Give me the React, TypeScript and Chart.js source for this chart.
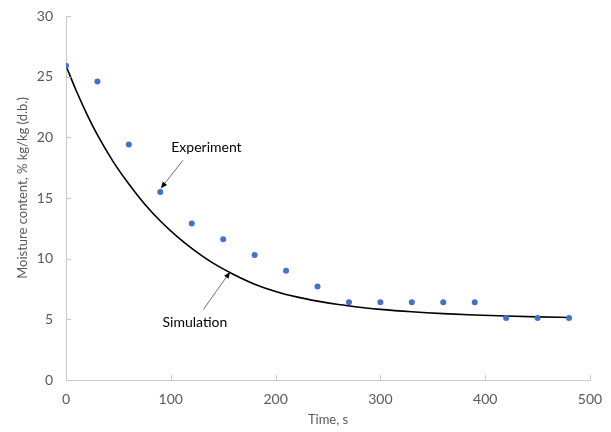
import React, { useEffect, useRef } from "react";
import { Chart, registerables } from "chart.js";

Chart.register(...registerables);

const expTime = [0, 30, 60, 90, 120, 150, 180, 210, 240, 270, 300, 330, 360, 390, 420, 450, 480];
const expMoisture = [25.9, 24.6, 19.4, 15.5, 12.9, 11.6, 10.3, 9.0, 7.7, 6.4, 6.4, 6.4, 6.4, 6.4, 5.1, 5.1, 5.1];

const simTime = [0, 10, 20, 30, 45, 60, 75, 90, 105, 120, 140, 160, 180, 200, 220, 240, 260, 280, 300, 330, 360, 390, 420, 450, 480];
const simMoisture = [25.9, 23.8, 21.9, 20.2, 18.0, 16.15, 14.5, 13.1, 11.9, 10.85, 9.65, 8.7, 7.9, 7.3, 6.85, 6.5, 6.22, 6.0, 5.82, 5.62, 5.47, 5.36, 5.27, 5.2, 5.15];

const xTicks = [0, 100, 200, 300, 400, 500];
const yTicks = [0, 5, 10, 15, 20, 25, 30];

const xTitle = "Time, s";
const yTitle = "Moisture content, % kg/kg (d.b.)";

// annotations: label position and arrow (from -> to) in data coordinates
const annotations = [
  { text: "Experiment", lx: 134, ly: 19.2, fx: 111.5, fy: 18.1, tx: 90.6, ty: 15.8 },
  { text: "Simulation", lx: 123, ly: 4.7, fx: 131, fy: 5.8, tx: 156.5, ty: 8.9 },
];

const FONT = "Lato, 'Open Sans', sans-serif";
const AXIS_COLOR = "#c8c8c8";
const TEXT_COLOR = "#595959";

const innerTicksPlugin = {
  id: "innerTicks",
  afterDraw(chart: any) {
    const { ctx, scales } = chart;
    const x = scales.x;
    const y = scales.y;
    ctx.save();
    ctx.strokeStyle = AXIS_COLOR;
    ctx.lineWidth = 1;
    ctx.beginPath();
    xTicks.forEach((v) => {
      const px = Math.round(x.getPixelForValue(v)) + 0.5;
      ctx.moveTo(px, y.bottom);
      ctx.lineTo(px, y.bottom - 5);
    });
    yTicks.forEach((v) => {
      const py = Math.round(y.getPixelForValue(v)) + 0.5;
      ctx.moveTo(x.left, py);
      ctx.lineTo(x.left + 5, py);
    });
    ctx.stroke();

    // y axis title
    ctx.fillStyle = TEXT_COLOR;
    ctx.font = `13px ${FONT}`;
    ctx.textAlign = "center";
    ctx.textBaseline = "middle";
    ctx.translate(22.5, (y.top + y.bottom) / 2 - 10);
    ctx.rotate(-Math.PI / 2);
    ctx.fillText(yTitle, 0, 0);
    ctx.restore();
  },
};

const annotationPlugin = {
  id: "arrowAnnotations",
  afterDatasetsDraw(chart: any) {
    const { ctx, scales } = chart;
    const x = scales.x;
    const y = scales.y;
    ctx.save();
    annotations.forEach((a) => {
      const lx = x.getPixelForValue(a.lx);
      const ly = y.getPixelForValue(a.ly);
      ctx.fillStyle = "#000000";
      ctx.font = `14px ${FONT}`;
      ctx.textAlign = "center";
      ctx.textBaseline = "middle";
      ctx.fillText(a.text, lx, ly);

      const fx = x.getPixelForValue(a.fx);
      const fy = y.getPixelForValue(a.fy);
      const tx = x.getPixelForValue(a.tx);
      const ty = y.getPixelForValue(a.ty);
      ctx.strokeStyle = "#404040";
      ctx.lineWidth = 0.75;
      ctx.beginPath();
      ctx.moveTo(fx, fy);
      ctx.lineTo(tx, ty);
      ctx.stroke();
      const ang = Math.atan2(ty - fy, tx - fx);
      const len = 7;
      const wid = 0.4;
      ctx.fillStyle = "#000000";
      ctx.beginPath();
      ctx.moveTo(tx, ty);
      ctx.lineTo(tx - len * Math.cos(ang - wid), ty - len * Math.sin(ang - wid));
      ctx.lineTo(tx - len * Math.cos(ang + wid), ty - len * Math.sin(ang + wid));
      ctx.closePath();
      ctx.fill();
    });
    ctx.restore();
  },
};

export default function App() {
  const ref = useRef<HTMLCanvasElement | null>(null);

  useEffect(() => {
    if (!ref.current) return;
    const chart = new Chart(ref.current, {
      type: "scatter",
      data: {
        datasets: [
          {
            label: "Simulation",
            data: simTime.map((t, i) => ({ x: t, y: simMoisture[i] })),
            showLine: true,
            borderColor: "#000000",
            borderWidth: 1.6,
            pointRadius: 0,
            cubicInterpolationMode: "monotone",
            order: 2,
          } as any,
          {
            label: "Experiment",
            data: expTime.map((t, i) => ({ x: t, y: expMoisture[i] })),
            showLine: false,
            backgroundColor: "#4472C4",
            borderColor: "#4472C4",
            pointRadius: 3,
            pointBorderWidth: 0,
            order: 1,
          },
        ],
      },
      options: {
        animation: false,
        responsive: false,
        maintainAspectRatio: false,
        layout: { padding: { left: 0, top: 16, right: 21, bottom: 0 } },
        plugins: {
          legend: { display: false },
          tooltip: { enabled: false },
        },
        scales: {
          x: {
            type: "linear",
            min: 0,
            max: 500,
            afterBuildTicks: (s: any) => {
              s.ticks = xTicks.map((v) => ({ value: v }));
            },
            afterFit: (s: any) => {
              s.height = 52;
              s.paddingLeft = 0;
              s.paddingRight = 0;
            },
            grid: { display: true, drawOnChartArea: false, drawTicks: false, color: AXIS_COLOR },
            border: { display: true, color: AXIS_COLOR, width: 1 },
            ticks: { color: TEXT_COLOR, font: { family: FONT, size: 14 }, padding: 11 },
            title: {
              display: true,
              text: xTitle,
              color: TEXT_COLOR,
              font: { family: FONT, size: 13 },
              padding: { top: 0, bottom: 4 },
            },
          },
          y: {
            type: "linear",
            min: 0,
            max: 30,
            afterBuildTicks: (s: any) => {
              s.ticks = yTicks.map((v) => ({ value: v }));
            },
            afterFit: (s: any) => {
              s.width = 66;
              s.paddingTop = 0;
              s.paddingBottom = 0;
            },
            grid: { display: true, drawOnChartArea: false, drawTicks: false, color: AXIS_COLOR },
            border: { display: true, color: AXIS_COLOR, width: 1 },
            ticks: { color: TEXT_COLOR, font: { family: FONT, size: 14 }, padding: 13 },
            title: { display: false },
          },
        },
      },
      plugins: [innerTicksPlugin, annotationPlugin],
    });
    return () => chart.destroy();
  }, []);

  return (
    <div style={{ position: "fixed", left: 0, top: 0, width: 611, height: 432, background: "#ffffff" }}>
      <canvas ref={ref} width={611} height={432} style={{ width: 611, height: 432 }} />
    </div>
  );
}
